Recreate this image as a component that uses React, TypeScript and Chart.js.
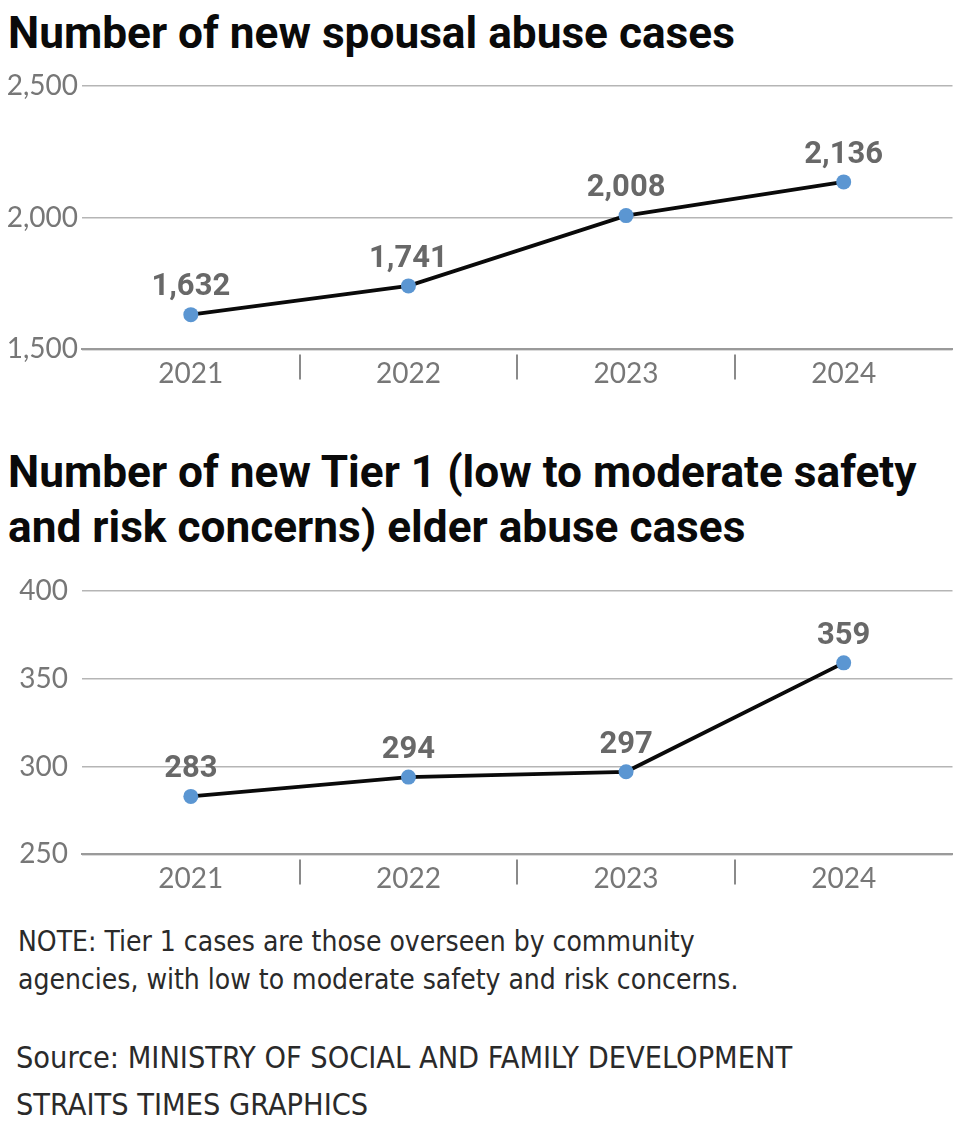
import React, { useEffect, useRef } from 'react';
import { Chart, registerables } from 'chart.js';

Chart.register(...registerables);

const years = ['2021', '2022', '2023', '2024'];
const spousalCases = [1632, 1741, 2008, 2136];
const elderCases = [283, 294, 297, 359];
const spousalTicks = [1500, 2000, 2500];
const elderTicks = [250, 300, 350, 400];

const TICK_FONT = 'Lato';
const LABEL_FONT = 'Roboto';

const valueLabelPlugin = {
  id: 'valueLabels',
  afterDatasetsDraw(chart: any) {
    const ctx = chart.ctx;
    const meta = chart.getDatasetMeta(0);
    const data = chart.data.datasets[0].data;
    ctx.save();
    ctx.font = `bold 31px ${LABEL_FONT}`;
    ctx.fillStyle = '#686868';
    ctx.textAlign = 'center';
    ctx.textBaseline = 'middle';
    meta.data.forEach((pt: any, i: number) => {
      ctx.fillText(Number(data[i]).toLocaleString('en-US'), pt.x, pt.y - 27);
    });
    ctx.restore();
  },
};

const dividerPlugin = {
  id: 'dividers',
  afterDraw(chart: any) {
    const ctx = chart.ctx;
    const xs = chart.scales.x;
    const bottom = chart.chartArea.bottom;
    ctx.save();
    ctx.strokeStyle = '#8a8a8a';
    ctx.lineWidth = 2;
    for (let i = 0; i < years.length - 1; i++) {
      const x = Math.round((xs.getPixelForValue(i) + xs.getPixelForValue(i + 1)) / 2);
      ctx.beginPath();
      ctx.moveTo(x, bottom + 5);
      ctx.lineTo(x, bottom + 30);
      ctx.stroke();
    }
    ctx.restore();
  },
};

function makeConfig(values: number[], ticks: number[], labelPad: number, topPad: number, bottomPad: number): any {
  return {
    type: 'line',
    data: {
      labels: years,
      datasets: [
        {
          data: values,
          borderColor: '#0a0a0a',
          borderWidth: 3.8,
          pointRadius: 7.5,
          pointBackgroundColor: '#5b96d2',
          pointBorderWidth: 0,
          tension: 0,
        },
      ],
    },
    plugins: [valueLabelPlugin, dividerPlugin],
    options: {
      animation: false,
      responsive: false,
      maintainAspectRatio: false,
      layout: { padding: { top: topPad, right: 0, left: 0, bottom: bottomPad } },
      plugins: { legend: { display: false }, tooltip: { enabled: false } },
      scales: {
        x: {
          offset: true,
          grid: { display: false, drawTicks: false },
          border: { display: true, color: '#9a9a9a', width: 2 },
          ticks: { padding: 8, color: '#777', font: { family: TICK_FONT, size: 28 } },
        },
        y: {
          min: ticks[0],
          max: ticks[ticks.length - 1],
          afterBuildTicks: (s: any) => {
            s.ticks = ticks.map((v) => ({ value: v }));
          },
          afterFit: (s: any) => {
            s.width = 82;
          },
          grid: { drawTicks: false, color: '#b5b5b5', lineWidth: 1.5 },
          border: { display: false },
          ticks: {
            padding: labelPad,
            color: '#777',
            font: { family: TICK_FONT, size: 28 },
            callback: (v: any) => Number(v).toLocaleString('en-US'),
          },
        },
      },
    },
  };
}

function LineChart({ values, ticks, labelPad, topPad, bottomPad }: { values: number[]; ticks: number[]; labelPad: number; topPad: number; bottomPad: number }) {
  const ref = useRef<HTMLCanvasElement>(null);
  useEffect(() => {
    if (!ref.current) return;
    const chart = new Chart(ref.current, makeConfig(values, ticks, labelPad, topPad, bottomPad));
    return () => chart.destroy();
  }, []);
  return <canvas ref={ref} width={960} height={350} style={{ display: 'block', width: 960, height: 350 }} />;
}

const titleStyle: React.CSSProperties = {
  position: 'absolute',
  left: 8,
  fontFamily: 'Roboto, sans-serif',
  fontWeight: 700,
  fontSize: 44.2,
  color: '#0a0a0a',
  margin: 0,
  whiteSpace: 'nowrap',
};

const noteStyle: React.CSSProperties = {
  position: 'absolute',
  fontFamily: '"Liberation Sans Narrow", "DejaVu Sans Condensed", sans-serif',
  color: '#2a2a2a',
  whiteSpace: 'nowrap',
};

export default function App() {
  return (
    <div style={{ position: 'absolute', left: 0, top: 0, width: 960, height: 1146, background: '#fff', overflow: 'hidden' }}>
      <div style={{ ...titleStyle, top: 8, lineHeight: '50px' }}>Number of new spousal abuse cases</div>
      <div style={{ position: 'absolute', left: 0, top: 60 }}>
        <LineChart values={spousalCases} ticks={spousalTicks} labelPad={4} topPad={26} bottomPad={11} />
      </div>
      <div style={{ ...titleStyle, top: 444.5, lineHeight: '55px' }}>
        Number of new Tier 1 (low to moderate safety
        <br />
        and risk concerns) elder abuse cases
      </div>
      <div style={{ position: 'absolute', left: 0, top: 560 }}>
        <LineChart values={elderCases} ticks={elderTicks} labelPad={14} topPad={21} bottomPad={6} />
      </div>
      <div style={{ ...noteStyle, fontSize: 28, left: 18, top: 923, lineHeight: '38px' }}>
        NOTE: Tier 1 cases are those overseen by community
        <br />
        agencies, with low to moderate safety and risk concerns.
      </div>
      <div style={{ ...noteStyle, fontSize: 30.4, left: 16, top: 1038, lineHeight: '40px' }}>Source: MINISTRY OF SOCIAL AND FAMILY DEVELOPMENT</div>
      <div style={{ ...noteStyle, fontSize: 30.4, left: 16, top: 1085, lineHeight: '40px' }}>STRAITS TIMES GRAPHICS</div>
    </div>
  );
}
